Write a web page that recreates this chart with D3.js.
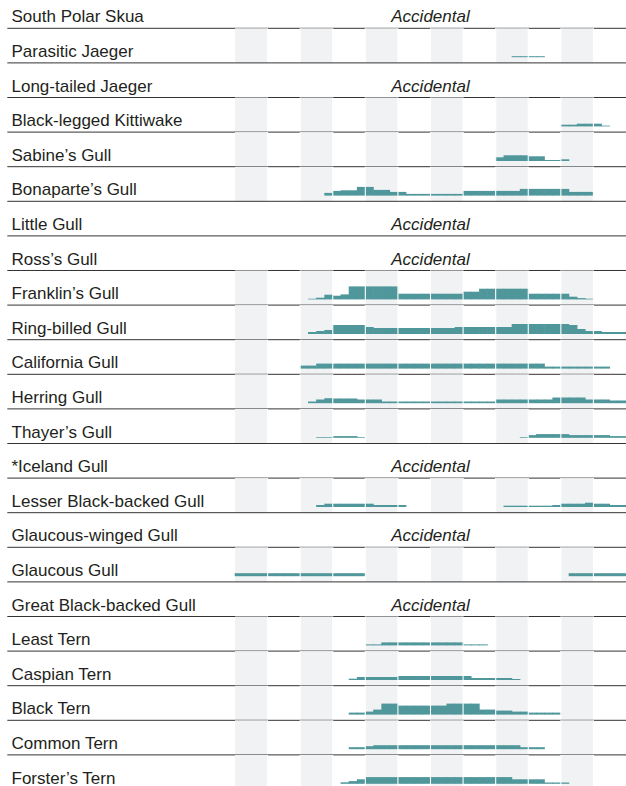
<!DOCTYPE html>
<html>
<head>
<meta charset="utf-8">
<script src="https://cdn.jsdelivr.net/npm/d3@7"></script>
<style>
  body { margin: 0; background: #fff; }
  svg { display: block; }
  text { font-family: "Liberation Sans", Arial, Helvetica, sans-serif; }
</style>
</head>
<body>
<svg id="chart" width="626" height="786"></svg>
<script>
// species in order, top to bottom
var species = [
  "South Polar Skua", "Parasitic Jaeger", "Long-tailed Jaeger", "Black-legged Kittiwake",
  "Sabine\u2019s Gull", "Bonaparte\u2019s Gull", "Little Gull", "Ross\u2019s Gull",
  "Franklin\u2019s Gull", "Ring-billed Gull", "California Gull", "Herring Gull",
  "Thayer\u2019s Gull", "*Iceland Gull", "Lesser Black-backed Gull", "Glaucous-winged Gull",
  "Glaucous Gull", "Great Black-backed Gull", "Least Tern", "Caspian Tern",
  "Black Tern", "Common Tern", "Forster\u2019s Tern"
];

var months = ["Jan", "Feb", "Mar", "Apr", "May", "Jun", "Jul", "Aug", "Sep", "Oct", "Nov", "Dec"];
var accidentalLabel = "Accidental";

// weekly abundance, 4 weeks per month, Jan..Dec (null = accidental)
var parasiticJaeger = [0,0,0,0, 0,0,0,0, 0,0,0,0, 0,0,0,0, 0,0,0,0, 0,0,0,0, 0,0,0,0, 0,0,0,0, 0,0,1,1, 1,1,0,0, 0,0,0,0, 0,0,0,0];
var kittiwake = [0,0,0,0, 0,0,0,0, 0,0,0,0, 0,0,0,0, 0,0,0,0, 0,0,0,0, 0,0,0,0, 0,0,0,0, 0,0,0,0, 0,0,0,0, 1.7,1.7,2.7,2.7, 2.7,0.8,0,0];
var sabines = [0,0,0,0, 0,0,0,0, 0,0,0,0, 0,0,0,0, 0,0,0,0, 0,0,0,0, 0,0,0,0, 0,0,0,0, 3.7,5.7,5.7,5.7, 4.7,4.7,1,1, 1.7,0,0,0, 0,0,0,0];
var bonapartes = [0,0,0,0, 0,0,0,0, 0,0,0,2.7, 4.7,5.3,5.3,8.7, 8.7,5.7,5.7,3.7, 3.7,1.7,1.7,1.7, 1.7,1.7,1.7,1.7, 4.7,4.7,4.7,4.7, 4.7,4.7,4.7,6.7, 6.7,6.7,6.7,6.7, 6.7,3.7,3.7,3.7, 0,0,0,0];
var franklins = [0,0,0,0, 0,0,0,0, 0,0.7,1.7,4.7, 3.7,5,13,13, 13,13,13,13, 5.7,5.7,5.7,5.7, 5.7,5.7,5.7,5.7, 7.7,7.7,10.7,10.7, 10.7,10.7,10.7,10.7, 5.7,5.7,5.7,5.7, 5.7,2.7,1.3,0.7, 0,0,0,0];
var ringBilled = [0,0,0,0, 0,0,0,0, 0,2,3,4, 9,9,9,9, 7,6,6,6, 6,6,6,6, 6,6,6,7, 7,7,7,7, 7,7,10,10, 10,10,10,10, 10,9,5,3, 3,2,2,2];
var california = [0,0,0,0, 0,0,0,0, 3,3,5,5, 5,5,5,5, 5,5,5,5, 5,5,5,5, 5,5,5,5, 5,5,5,5, 5,5,5,5, 5,5,2,2, 2,2,2,2, 2,2,0,0];
var herring = [0,0,0,0, 0,0,0,0, 0,1.7,3.7,5, 4.7,4.7,4.7,3.7, 3.7,3.7,1.7,1.7, 1.7,1.7,1.7,1.7, 1.7,1.7,1.7,1.7, 1.7,1.7,1.7,1.7, 3.7,3.7,3.7,3.7, 3.7,3.7,3.7,5.7, 5.7,5.7,5.7,3.7, 3.7,3.7,2.7,2.7];
var thayers = [0,0,0,0, 0,0,0,0, 0,0,0.7,0.7, 1.7,1.7,1.7,0.7, 0,0,0,0, 0,0,0,0, 0,0,0,0, 0,0,0,0, 0,0,0,0.7, 2.7,3.7,3.7,3.7, 3.7,2.7,2.7,2.7, 2.7,2.7,1.7,1.7];
var lesserBlackBacked = [0,0,0,0, 0,0,0,0, 0,0,2,3.3, 3.3,3.3,3.3,3.3, 3.3,2,2,2, 2,0,0,0, 0,0,0,0, 0,0,0,0, 0,1.3,1.3,1.3, 1.3,1.3,1.3,2, 3.3,3.3,3.3,4.3, 3.3,3.3,2,2];
var glaucous = [3,3,3,3, 3,3,3,3, 3,3,3,3, 3,3,3,3, 0,0,0,0, 0,0,0,0, 0,0,0,0, 0,0,0,0, 0,0,0,0, 0,0,0,0, 0,3,3,3, 3,3,3,3];
var leastTern = [0,0,0,0, 0,0,0,0, 0,0,0,0, 0,0,0,0, 1,1,3,3, 3,3,3,3, 3,3,3,3, 1,1,1,0, 0,0,0,0, 0,0,0,0, 0,0,0,0, 0,0,0,0];
var caspianTern = [0,0,0,0, 0,0,0,0, 0,0,0,0, 0,0,1.3,3, 3,3,3,3, 4,4,4,4, 4,4,4,4, 4,2,2,2, 2,2,1,0, 0,0,0,0, 0,0,0,0, 0,0,0,0];
var blackTern = [0,0,0,0, 0,0,0,0, 0,0,0,0, 0,0,2,2, 3,5,11,11, 9,9,9,9, 9,9,11,11, 11,11,5,5, 4,4,3,3, 2,2,2,2, 0,0,0,0, 0,0,0,0];
var commonTern = [0,0,0,0, 0,0,0,0, 0,0,0,0, 0,0,2,2, 3,4,4,4, 4,4,4,4, 4,4,4,4, 4,4,4,4, 4,4,4,2, 2,2,0,0, 0,0,0,0, 0,0,0,0];
var forstersTern = [0,0,0,0, 0,0,0,0, 0,0,0,0, 0,1.5,2.7,4.5, 6.7,6.7,6.7,6.7, 6.7,6.7,6.7,6.7, 6.7,6.7,6.7,6.7, 6.7,6.7,6.7,6.7, 6.7,6.7,4.5,4.5, 4.5,4.5,1.3,1.3, 1.3,0,0,0, 0,0,0,0];

var weekly = [
  null, parasiticJaeger, null, kittiwake,
  sabines, bonapartes, null, null,
  franklins, ringBilled, california, herring,
  thayers, null, lesserBlackBacked, null,
  glaucous, null, leastTern, caspianTern,
  blackTern, commonTern, forstersTern
];

var svg = d3.select("#chart");
var width = 626;

var rows = species.map(function(name, i) {
  return { name: name, weeks: weekly[i] };
});

// rows: rule at the bottom of each band
var y = d3.scaleBand()
  .domain(species)
  .range([-6.3, 789.5]);

var x = d3.scaleLinear().domain([0, 48]).range([235, 626]);
var h = d3.scaleLinear().domain([0, 14]).range([0, 14]);
var baseOffset = 5.7;

var row = svg.selectAll("g.row")
  .data(rows)
  .enter().append("g")
  .attr("class", "row")
  .attr("transform", function(d) { return "translate(0," + y(d.name) + ")"; });

var band = y.bandwidth();
var data_rows = row.filter(function(d) { return d.weeks !== null; });

// alternating month stripes
data_rows.selectAll("rect.stripe")
  .data(months.filter(function(m, i) { return i % 2 === 0; }))
  .enter().append("rect")
  .attr("class", "stripe")
  .attr("x", function(m) { return x(months.indexOf(m) * 4); })
  .attr("width", x(4) - x(0))
  .attr("y", 0)
  .attr("height", band)
  .attr("fill", "#f1f2f4");

// weekly bars (slight overlap so neighbouring weeks don't show a seam)
data_rows.selectAll("rect.bar")
  .data(function(d) {
    return d.weeks.map(function(v, i) { return { v: v, i: i }; })
      .filter(function(e) { return e.v > 0; });
  })
  .enter().append("rect")
  .attr("class", "bar")
  .attr("x", function(e) { return x(e.i) - 0.3; })
  .attr("width", x(1) - x(0) + 0.6)
  .attr("y", function(e) { return band - baseOffset - h(e.v); })
  .attr("height", function(e) { return h(e.v); })
  .attr("fill", "#4f979b");

// white month dividers
data_rows.selectAll("line.div")
  .data(d3.range(1, 12))
  .enter().append("line")
  .attr("class", "div")
  .attr("x1", function(m) { return x(m * 4); })
  .attr("x2", function(m) { return x(m * 4); })
  .attr("y1", 0)
  .attr("y2", band)
  .attr("stroke", "#fff")
  .attr("stroke-width", 1.1);

// row rule
row.append("line")
  .attr("x1", 7.3)
  .attr("x2", width)
  .attr("y1", band)
  .attr("y2", band)
  .attr("stroke", "#333")
  .attr("stroke-width", 1);

// species name
row.append("text")
  .attr("x", 11.5)
  .attr("y", band - 5.8)
  .attr("font-size", "17px")
  .attr("fill", "#231f20")
  .text(function(d) { return d.name; });

// accidental note
row.filter(function(d) { return d.weeks === null; })
  .append("text")
  .attr("x", (x(0) + x(48)) / 2)
  .attr("y", band - 5.8)
  .attr("text-anchor", "middle")
  .attr("font-size", "17px")
  .attr("font-style", "italic")
  .attr("fill", "#231f20")
  .text(accidentalLabel);
</script>
</body>
</html>
